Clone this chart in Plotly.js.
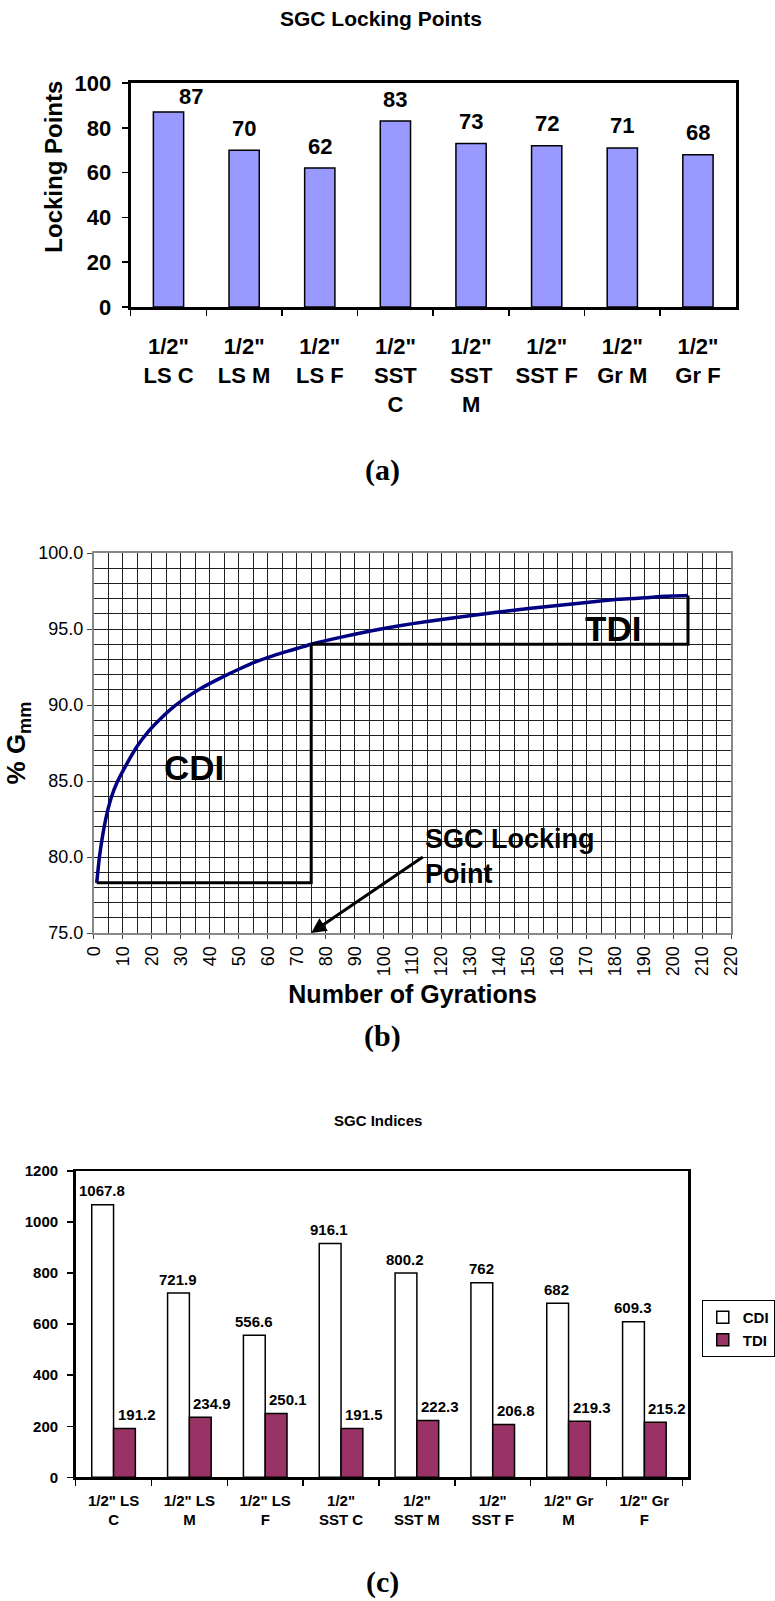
<!DOCTYPE html>
<html><head><meta charset="utf-8">
<script src="https://cdn.plot.ly/plotly-3.0.1.min.js"></script>
<style>html,body{margin:0;padding:0;background:#fff}</style>
</head><body><div id="chart" style="width:775px;height:1601px"></div>
<script>
// ---------- data ----------
const lockCategories = ['1/2" LS C','1/2" LS M','1/2" LS F','1/2" SST C','1/2" SST M','1/2" SST F','1/2" Gr M','1/2" Gr F'];
const lockTickLabels = ['1/2"<br>LS C','1/2"<br>LS M','1/2"<br>LS F','1/2"<br>SST<br>C','1/2"<br>SST<br>M','1/2"<br>SST F','1/2"<br>Gr M','1/2"<br>Gr F'];
const lockingPoints = [87, 70, 62, 83, 73, 72, 71, 68];

const gyrations  = [1, 2, 4, 6, 8, 11, 15, 19, 23, 27, 32, 37, 44, 50, 56, 62, 68, 75, 85, 95, 105, 115, 125, 137, 150, 160, 170, 181, 190, 197, 205];
const gmmPercent = [78.3, 80.1, 82.4, 83.9, 84.9, 86.0, 87.3, 88.3, 89.1, 89.8, 90.5, 91.1, 91.8, 92.35, 92.85, 93.25, 93.6, 94.0, 94.45, 94.85, 95.2, 95.5, 95.75, 96.05, 96.35, 96.55, 96.75, 96.95, 97.05, 97.15, 97.2];
const lockingGyration = 75;
const gyrationTicks = [0,10,20,30,40,50,60,70,80,90,100,110,120,130,140,150,160,170,180,190,200,210,220];

const indexCategories = lockCategories;
const indexTickLabels = ['1/2" LS<br>C','1/2" LS<br>M','1/2" LS<br>F','1/2"<br>SST C','1/2"<br>SST M','1/2"<br>SST F','1/2" Gr<br>M','1/2" Gr<br>F'];
const cdiValues = [1067.8, 721.9, 556.6, 916.1, 800.2, 762, 682, 609.3];
const tdiValues = [191.2, 234.9, 250.1, 191.5, 222.3, 206.8, 219.3, 215.2];

// ---------- helpers ----------
const W = 775, H = 1601;
const px = v => v / W;
const py = v => 1 - v / H;
const ARIAL = 'Liberation Sans, Arial, sans-serif';
const TIMES = 'Liberation Serif, Times New Roman, serif';
const bold = (size, color) => ({family: ARIAL, size: size, color: color || '#000', weight: 'bold'});
const timesBold = {family: TIMES, size: 30, color: '#000', weight: 'bold'};

const g0 = gmmPercent[0], n0 = gyrations[0];
const gLock = gmmPercent[gyrations.indexOf(lockingGyration)];
const nEnd = gyrations[gyrations.length - 1], gEnd = gmmPercent[gmmPercent.length - 1];

// ---------- traces ----------
const traces = [
  {type: 'bar', x: lockCategories, y: lockingPoints, xaxis: 'x', yaxis: 'y', width: 0.4,
   marker: {color: '#9999FF', line: {color: '#000', width: 1.5}}, showlegend: false, hoverinfo: 'skip'},

  {type: 'scatter', mode: 'lines', x: gyrations, y: gmmPercent, xaxis: 'x2', yaxis: 'y2',
   line: {color: '#000080', width: 3.5, shape: 'spline', smoothing: 0.5}, showlegend: false},
  {type: 'scatter', mode: 'lines', x: [n0, lockingGyration, lockingGyration], y: [g0, g0, gLock], xaxis: 'x2', yaxis: 'y2',
   line: {color: '#000', width: 3}, showlegend: false},
  {type: 'scatter', mode: 'lines', x: [lockingGyration, nEnd, nEnd], y: [gLock, gLock, gEnd], xaxis: 'x2', yaxis: 'y2',
   line: {color: '#000', width: 3}, showlegend: false},

  {type: 'bar', name: 'CDI', x: indexCategories, y: cdiValues, xaxis: 'x3', yaxis: 'y3',
   marker: {color: '#FFFFFF', line: {color: '#000', width: 1.5}}},
  {type: 'bar', name: 'TDI', x: indexCategories, y: tdiValues, xaxis: 'x3', yaxis: 'y3',
   marker: {color: '#993366', line: {color: '#000', width: 1.5}}}
];

// ---------- annotations ----------
const centered = {xref: 'paper', yref: 'paper', showarrow: false, xanchor: 'center', yanchor: 'middle'};
const ann = [];
ann.push(Object.assign({text: 'SGC Locking Points', x: px(398), y: py(19), font: bold(21)}, centered));
ann.push(Object.assign({text: 'Locking Points', x: px(55), y: py(167), textangle: -90, font: bold(24)}, centered));
ann.push(Object.assign({text: 'SGC Indices', x: px(395), y: py(1120), font: bold(15)}, centered));
ann.push(Object.assign({text: '(a)', x: px(400), y: py(470), font: timesBold}, centered));
ann.push(Object.assign({text: '(b)', x: px(400), y: py(1036), font: timesBold}, centered));
ann.push(Object.assign({text: '(c)', x: px(400), y: py(1582), font: timesBold}, centered));

lockingPoints.forEach((v, i) => {
  ann.push({text: String(v), x: lockCategories[i], y: v, xref: 'x', yref: 'y', showarrow: false,
    xanchor: 'center', yanchor: 'middle', yshift: i === 0 ? 16 : 22, xshift: i === 0 ? 22 : 0, font: bold(22)});
});
cdiValues.forEach((v, i) => {
  ann.push({text: String(v), x: indexCategories[i], y: v, xref: 'x3', yref: 'y3', showarrow: false,
    xanchor: 'center', yanchor: 'middle', yshift: 14, xshift: -11.6, font: bold(15)});
});
tdiValues.forEach((v, i) => {
  ann.push({text: String(v), x: indexCategories[i], y: v, xref: 'x3', yref: 'y3', showarrow: false,
    xanchor: 'center', yanchor: 'middle', yshift: 14, xshift: 23, font: bold(15)});
});

ann.push({text: 'CDI', x: 34.5, y: 85.9, xref: 'x2', yref: 'y2', showarrow: false, xanchor: 'center', yanchor: 'middle', font: bold(35)});
ann.push({text: 'TDI', x: 179, y: 95.0, xref: 'x2', yref: 'y2', showarrow: false, xanchor: 'center', yanchor: 'middle', font: bold(35)});
ann.push({text: 'SGC Locking<br>Point', x: lockingGyration, y: 75, xref: 'x2', yref: 'y2',
  ax: 113.5, ay: 80.0, axref: 'x2', ayref: 'y2', xanchor: 'left', yanchor: 'middle', align: 'left',
  showarrow: true, arrowhead: 2, arrowsize: 1, arrowwidth: 3, arrowcolor: '#000', font: bold(27)});

// ---------- layout ----------
const layout = {
  width: W, height: H, margin: {l: 0, r: 0, t: 0, b: 0},
  paper_bgcolor: '#fff', plot_bgcolor: '#fff',
  font: {family: ARIAL, color: '#000'},
  barmode: 'group',
  bargap: 0.425, bargroupgap: 0,
  showlegend: true,
  legend: {x: px(733), y: py(1300), xanchor: 'left', yanchor: 'top', bgcolor: '#fff',
    bordercolor: '#000', borderwidth: 1, font: bold(15), itemwidth: 30, tracegroupgap: 0},
  annotations: ann,

  xaxis: {domain: [px(136.5), px(768.5)], anchor: 'y', type: 'category',
    tickvals: lockCategories, ticktext: lockTickLabels, tickfont: bold(22),
    ticks: 'outside', tickson: 'boundaries', ticklen: 6, tickwidth: 1.5, tickcolor: '#000',
    ticklabelstandoff: 18,
    showline: true, linecolor: '#000', linewidth: 3, mirror: true, showgrid: false, zeroline: false},
  yaxis: {domain: [py(307), py(83)], anchor: 'x', range: [0, 100], dtick: 20, tickfont: bold(22),
    ticks: 'outside', ticklen: 6, tickwidth: 1.5, tickcolor: '#000', ticklabelstandoff: 6,
    showline: true, linecolor: '#000', linewidth: 3, mirror: true, showgrid: false, zeroline: false},

  xaxis2: {domain: [px(98), px(764)], anchor: 'y2', range: [0, 220], tickvals: gyrationTicks, tickangle: -90,
    tickfont: {family: ARIAL, size: 18, color: '#000'}, ticks: 'outside', ticklen: 4, tickcolor: '#444',
    showgrid: true, gridcolor: '#222', gridwidth: 1,
    minor: {dtick: 5, showgrid: true, gridcolor: '#222', gridwidth: 1},
    showline: true, linecolor: '#888', linewidth: 2, mirror: true, zeroline: false,
    title: {text: 'Number of Gyrations', font: bold(25), standoff: 10}},
  yaxis2: {domain: [py(933), py(553)], anchor: 'x2', range: [75, 100], dtick: 5, tickformat: '.1f',
    tickfont: {family: ARIAL, size: 18, color: '#000'}, ticks: 'outside', ticklen: 5, tickcolor: '#444',
    showgrid: true, gridcolor: '#222', gridwidth: 1,
    minor: {dtick: 1, showgrid: true, gridcolor: '#222', gridwidth: 1},
    showline: true, linecolor: '#888', linewidth: 2, mirror: true, zeroline: false,
    title: {text: '% G<sub>mm</sub>', font: bold(26), standoff: 5}},

  xaxis3: {domain: [px(79), px(719)], anchor: 'y3', type: 'category',
    tickvals: indexCategories, ticktext: indexTickLabels, tickfont: bold(15),
    ticks: 'outside', tickson: 'boundaries', ticklen: 6, tickwidth: 1.5, tickcolor: '#000',
    ticklabelstandoff: 8,
    showline: true, linecolor: '#000', linewidth: 2.5, mirror: true, showgrid: false, zeroline: false},
  yaxis3: {domain: [py(1477.3), py(1171)], anchor: 'x3', range: [0, 1200], dtick: 200, tickfont: bold(15),
    ticks: 'outside', ticklen: 6, tickwidth: 1.5, tickcolor: '#000', ticklabelstandoff: 6,
    showline: true, linecolor: '#000', linewidth: 2.5, mirror: true, showgrid: false, zeroline: false}
};

Plotly.newPlot('chart', traces, layout, {staticPlot: true, displayModeBar: false});
</script>
</body></html>
